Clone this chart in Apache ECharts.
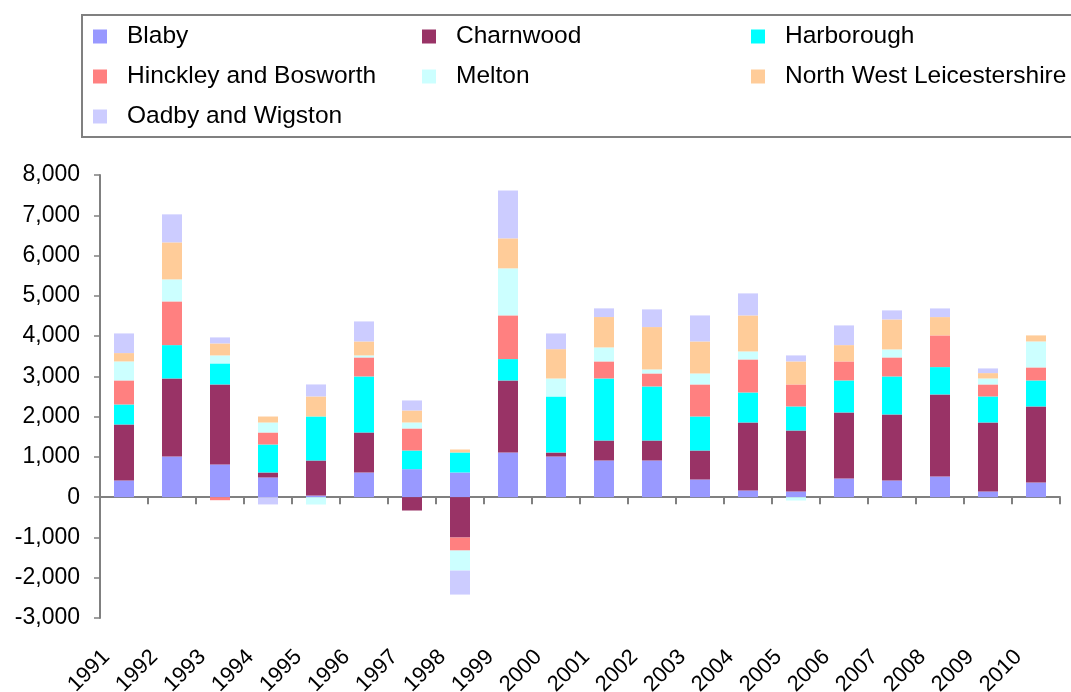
<!DOCTYPE html>
<html>
<head>
<meta charset="utf-8">
<title>Leicestershire districts</title>
<script src="https://cdn.jsdelivr.net/npm/echarts@6/dist/echarts.min.js"></script>
<style>
  html, body { margin: 0; padding: 0; background: #fff; }
  #chart { width: 1071px; height: 692px; }
</style>
</head>
<body>
<div id="chart"></div>
<script>
const years = ['1991', '1992', '1993', '1994', '1995', '1996', '1997', '1998', '1999', '2000',
  '2001', '2002', '2003', '2004', '2005', '2006', '2007', '2008', '2009', '2010'];

const blaby = [414, 1010, 812, 489, 41, 613, 696, 613, 1110, 1010, 911, 911, 439, 166, 141, 464, 414, 513, 141, 364];
const charnwood = [1391, 1938, 1987, 124, 870, 994, -331, -1002, 1789, 99, 497, 497, 720, 1689, 1515, 1640, 1640, 2038, 1714, 1889];
const harborough = [497, 828, 522, 695, 1093, 1391, 463, 497, 530, 1391, 1540, 1342, 845, 745, 597, 795, 944, 679, 646, 646];
const hinckley = [597, 1085, -75, 298, 0, 472, 547, -323, 1085, 0, 423, 322, 795, 820, 546, 472, 472, 787, 298, 323];
const melton = [472, 547, 199, 248, -182, 50, 149, -497, 1168, 447, 348, 100, 273, 199, -83, 0, 199, 0, 149, 645];
const nwLeics = [207, 919, 298, 149, 497, 347, 298, 74, 745, 729, 754, 1052, 795, 894, 572, 405, 745, 455, 133, 150];
const oadby = [488, 696, 149, -180, 298, 497, 249, -596, 1188, 389, 215, 439, 646, 547, 149, 489, 224, 215, 116, 0];

const districts = [
  { name: 'Blaby', data: blaby, color: '#9999FF' },
  { name: 'Charnwood', data: charnwood, color: '#993366' },
  { name: 'Harborough', data: harborough, color: '#00FFFF' },
  { name: 'Hinckley and Bosworth', data: hinckley, color: '#FF8080' },
  { name: 'Melton', data: melton, color: '#CCFFFF' },
  { name: 'North West Leicestershire', data: nwLeics, color: '#FFCC99' },
  { name: 'Oadby and Wigston', data: oadby, color: '#CCCCFF' },
];

const font = "'Liberation Sans', Arial, sans-serif";
const axisGrey = '#808080';

const legendBase = {
  orient: 'vertical',
  top: 24,
  padding: 0,
  itemWidth: 14,
  itemHeight: 14,
  itemGap: 15,
  icon: 'rect',
  selectedMode: false,
  textStyle: {
    fontFamily: font,
    fontSize: 24.5,
    lineHeight: 24,
    color: '#000',
    padding: [0, 0, 0, 15],
  },
};

// 三列图例, 按列对齐
const legendColumns = [
  { left: 93, data: ['Blaby', 'Hinckley and Bosworth', 'Oadby and Wigston'] },
  { left: 422, data: ['Charnwood', 'Melton'] },
  { left: 751, data: ['Harborough', 'North West Leicestershire'] },
];

const fmt = (v) => String(v).replace(/\B(?=(\d{3})+(?!\d))/g, ',');

const chart = echarts.init(document.getElementById('chart'));

chart.setOption({
  animation: false,
  graphic: [
    {
      type: 'rect',
      shape: { x: 82, y: 15, width: 1010, height: 122 },
      style: { fill: 'none', stroke: axisGrey, lineWidth: 2 },
    },
  ],
  legend: legendColumns.map((c) => ({ ...legendBase, ...c })),
  grid: {
    left: 100,
    right: 11,
    top: 175,
    bottom: 74,
    outerBoundsMode: 'none',
    containLabel: false,
  },
  xAxis: [
    {
      /* 底部年份标签 */
      type: 'category',
      data: years,
      position: 'bottom',
      axisLine: { show: false, onZero: false },
      axisTick: { show: false },
      axisLabel: {
        rotate: 45,
        margin: 18,
        padding: [0, 25, 0, 0],
        fontFamily: font,
        fontSize: 22,
        color: '#000',
        interval: 0,
      },
    },
    {
      /* 零刻度线 */
      type: 'category',
      data: years,
      position: 'bottom',
      axisLine: { show: true, onZero: true, lineStyle: { color: axisGrey, width: 2 } },
      axisTick: { show: true, length: 7, lineStyle: { color: axisGrey, width: 2 } },
      axisLabel: { show: false },
    },
  ],
  yAxis: {
    type: 'value',
    min: -3000,
    max: 8000,
    interval: 1000,
    axisLine: { show: true, lineStyle: { color: axisGrey, width: 2 } },
    axisTick: { show: true, length: 6, lineStyle: { color: axisGrey, width: 1.5 } },
    splitLine: { show: false },
    axisLabel: {
      margin: 20,
      fontFamily: font,
      fontSize: 23,
      color: '#000',
      formatter: fmt,
    },
  },
  series: districts.map((d) => ({
    type: 'bar',
    name: d.name,
    stack: 'total',
    data: d.data,
    barWidth: 20,
    itemStyle: { color: d.color },
  })),
});
</script>
</body>
</html>
